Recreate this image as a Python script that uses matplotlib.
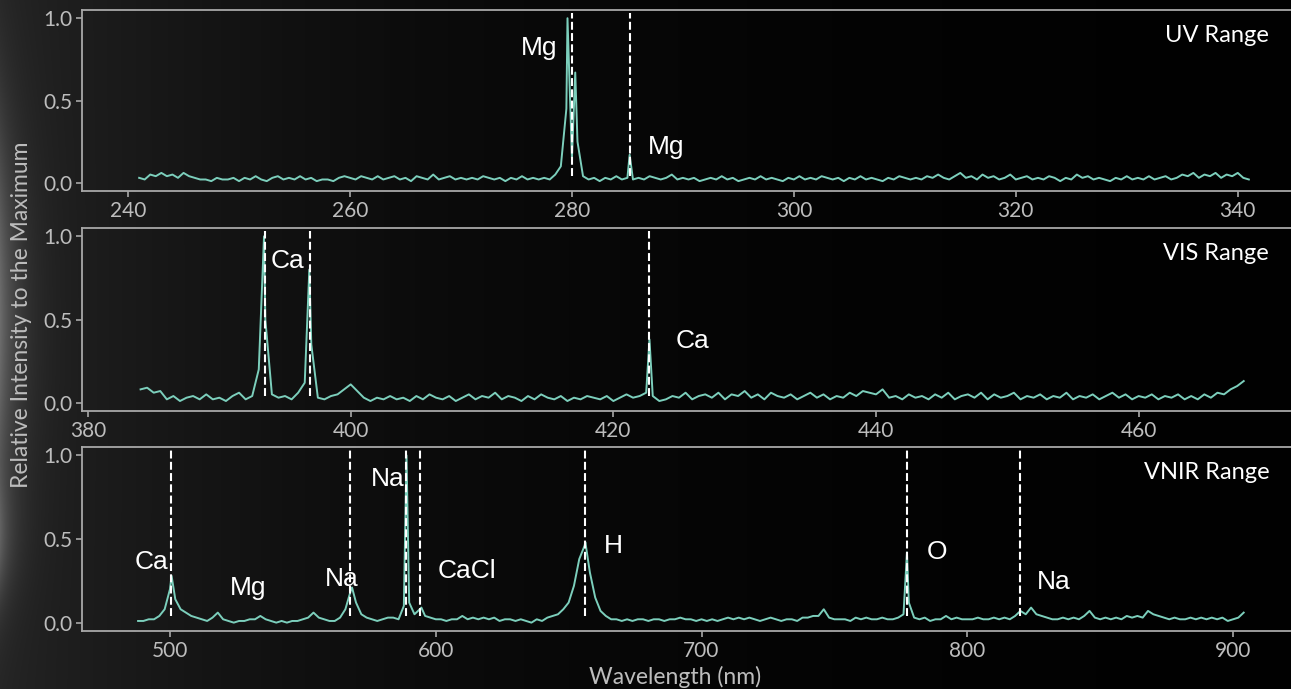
import matplotlib.pyplot as plt
import numpy as np

# ---- data ------------------------------------------------------------------
# UV range: regular 0.5 nm grid plus the peak tops
uv_start, uv_step = 241.0, 0.5
uv_int = [0.03, 0.02, 0.05, 0.04, 0.06, 0.04, 0.05, 0.03, 0.06, 0.04, 0.03, 0.02, 0.02, 0.01, 0.03, 0.02, 0.02, 0.03, 0.01, 0.03,
          0.02, 0.04, 0.02, 0.01, 0.03, 0.04, 0.02, 0.03, 0.02, 0.04, 0.02, 0.03, 0.01, 0.02, 0.02, 0.01, 0.03, 0.04, 0.03, 0.02,
          0.04, 0.03, 0.02, 0.04, 0.02, 0.03, 0.04, 0.02, 0.03, 0.01, 0.04, 0.03, 0.02, 0.05, 0.02, 0.03, 0.04, 0.02, 0.03, 0.02,
          0.03, 0.02, 0.04, 0.03, 0.02, 0.03, 0.01, 0.03, 0.02, 0.04, 0.02, 0.03, 0.02, 0.03, 0.02, 0.05, 0.10, 0.45, 0.15, 0.25,
          0.04, 0.02, 0.03, 0.01, 0.03, 0.02, 0.04, 0.02, 0.03, 0.02, 0.03, 0.02, 0.04, 0.03, 0.02, 0.03, 0.05, 0.02, 0.03, 0.02,
          0.03, 0.01, 0.02, 0.03, 0.02, 0.04, 0.02, 0.03, 0.01, 0.02, 0.03, 0.02, 0.04, 0.02, 0.03, 0.02, 0.01, 0.03, 0.02, 0.04,
          0.02, 0.03, 0.02, 0.04, 0.03, 0.02, 0.03, 0.01, 0.03, 0.02, 0.04, 0.02, 0.03, 0.02, 0.01, 0.03, 0.02, 0.04, 0.03, 0.02,
          0.03, 0.02, 0.04, 0.03, 0.05, 0.03, 0.02, 0.04, 0.06, 0.03, 0.04, 0.02, 0.05, 0.03, 0.04, 0.02, 0.03, 0.05, 0.02, 0.03,
          0.04, 0.02, 0.03, 0.02, 0.04, 0.03, 0.01, 0.03, 0.02, 0.05, 0.03, 0.04, 0.02, 0.03, 0.02, 0.01, 0.03, 0.02, 0.04, 0.02,
          0.03, 0.02, 0.04, 0.02, 0.03, 0.04, 0.02, 0.03, 0.05, 0.04, 0.06, 0.03, 0.05, 0.04, 0.06, 0.03, 0.05, 0.04, 0.06, 0.03,
          0.02]
uv_peak_wl = [279.6, 280.3, 285.2]
uv_peak_int = [1.0, 0.67, 0.17]

# VIS range
vis_start, vis_step = 384.0, 0.5
vis_int = [0.08, 0.09, 0.06, 0.07, 0.02, 0.04, 0.01, 0.03, 0.04, 0.02, 0.05, 0.02, 0.03, 0.01, 0.04, 0.06, 0.02, 0.04, 0.20, 0.50,
           0.05, 0.03, 0.04, 0.02, 0.06, 0.12, 0.35, 0.03, 0.02, 0.04, 0.05, 0.08, 0.11, 0.07, 0.03, 0.01, 0.03, 0.02, 0.04, 0.02,
           0.03, 0.01, 0.04, 0.02, 0.05, 0.03, 0.02, 0.04, 0.01, 0.03, 0.05, 0.02, 0.04, 0.03, 0.06, 0.02, 0.04, 0.03, 0.01, 0.04,
           0.02, 0.05, 0.03, 0.02, 0.04, 0.01, 0.03, 0.02, 0.04, 0.03, 0.02, 0.04, 0.01, 0.03, 0.05, 0.03, 0.04, 0.06, 0.04, 0.01,
           0.02, 0.04, 0.03, 0.06, 0.02, 0.04, 0.05, 0.03, 0.06, 0.02, 0.05, 0.04, 0.07, 0.03, 0.05, 0.02, 0.06, 0.04, 0.03, 0.05,
           0.02, 0.04, 0.06, 0.03, 0.05, 0.02, 0.04, 0.03, 0.06, 0.04, 0.07, 0.06, 0.05, 0.08, 0.03, 0.04, 0.02, 0.05, 0.03, 0.04,
           0.02, 0.05, 0.03, 0.06, 0.02, 0.04, 0.05, 0.03, 0.06, 0.02, 0.05, 0.03, 0.04, 0.06, 0.02, 0.04, 0.03, 0.05, 0.02, 0.04,
           0.03, 0.06, 0.02, 0.04, 0.03, 0.05, 0.02, 0.04, 0.06, 0.03, 0.05, 0.02, 0.04, 0.03, 0.05, 0.02, 0.04, 0.03, 0.05, 0.02,
           0.04, 0.02, 0.05, 0.03, 0.06, 0.05, 0.08, 0.10, 0.13]
vis_peak_wl = [393.4, 396.85, 422.75]
vis_peak_int = [1.0, 0.80, 0.38]

# VNIR range
vnir_start, vnir_step = 488.0, 2.0
vnir_int = [0.01, 0.01, 0.02, 0.02, 0.04, 0.08, 0.20, 0.14, 0.08, 0.06,
            0.04, 0.03, 0.02, 0.01, 0.03, 0.06, 0.02, 0.01, 0.00, 0.01,
            0.01, 0.02, 0.02, 0.04, 0.02, 0.01, 0.00, 0.01, 0.00, 0.01,
            0.01, 0.02, 0.03, 0.06, 0.03, 0.02, 0.01, 0.01, 0.03, 0.08,
            0.19, 0.12, 0.05, 0.03, 0.02, 0.01, 0.02, 0.03, 0.03, 0.02,
            0.10, 0.12, 0.05, 0.08, 0.04, 0.03, 0.02, 0.02, 0.01, 0.02,
            0.02, 0.04, 0.02, 0.03, 0.02, 0.03, 0.02, 0.03, 0.01, 0.02,
            0.02, 0.01, 0.02, 0.01, 0.00, 0.02, 0.01, 0.03, 0.04, 0.05,
            0.08, 0.12, 0.22, 0.38, 0.46, 0.30, 0.15, 0.07, 0.04, 0.02,
            0.02, 0.01, 0.02, 0.01, 0.02, 0.02, 0.01, 0.02, 0.02, 0.01,
            0.02, 0.02, 0.03, 0.02, 0.02, 0.01, 0.02, 0.01, 0.02, 0.01,
            0.02, 0.03, 0.02, 0.03, 0.02, 0.03, 0.02, 0.01, 0.02, 0.03,
            0.02, 0.01, 0.02, 0.02, 0.01, 0.03, 0.03, 0.04, 0.04, 0.08,
            0.03, 0.02, 0.02, 0.02, 0.01, 0.03, 0.02, 0.03, 0.02, 0.02,
            0.03, 0.02, 0.02, 0.03, 0.05, 0.12, 0.03, 0.02, 0.03, 0.01,
            0.02, 0.02, 0.04, 0.02, 0.03, 0.02, 0.02, 0.02, 0.03, 0.02,
            0.02, 0.03, 0.02, 0.03, 0.02, 0.04, 0.07, 0.05, 0.09, 0.05,
            0.04, 0.03, 0.02, 0.02, 0.03, 0.02, 0.03, 0.02, 0.04, 0.07,
            0.03, 0.02, 0.03, 0.02, 0.03, 0.02, 0.04, 0.03, 0.04, 0.03,
            0.07, 0.05, 0.04, 0.03, 0.02, 0.03, 0.02, 0.02, 0.03, 0.02,
            0.03, 0.02, 0.03, 0.02, 0.03, 0.01, 0.02, 0.03, 0.06]
vnir_peak_wl = [500.6, 568.5, 589.0, 594.6, 656.3, 777.3]
vnir_peak_int = [0.28, 0.21, 1.0, 0.09, 0.48, 0.42]

# reference lines and element labels
uv_lines = [280.0, 285.2]
vis_lines = [393.45, 396.9, 422.75]
vnir_lines = [500.4, 567.9, 588.7, 594.0, 656.3, 777.3, 819.9]

uv_labels = [("Mg", 277.0, 0.82), ("Mg", 288.5, 0.22)]
vis_labels = [("Ca", 395.2, 0.85), ("Ca", 426.0, 0.37)]
vnir_labels = [("Ca", 493.2, 0.36), ("Mg", 529.3, 0.21), ("Na", 564.7, 0.26), ("Na", 582.0, 0.86),
               ("CaCl", 611.7, 0.31), ("H", 666.9, 0.46), ("O", 788.7, 0.42), ("Na", 832.7, 0.24)]

range_names = ["UV Range", "VIS Range", "VNIR Range"]
xlims = [(235.85, 344.8), (379.54, 471.6), (466.9, 921.8)]
xticks = [[240, 260, 280, 300, 320, 340], [380, 400, 420, 440, 460], [500, 600, 700, 800, 900]]


def merge(start, step, vals, pk_wl, pk_int):
    wl = start + step * np.arange(len(vals))
    x = np.concatenate([wl, pk_wl])
    y = np.concatenate([vals, pk_int])
    order = np.argsort(x)
    return x[order], y[order]


spectra = [merge(uv_start, uv_step, uv_int, uv_peak_wl, uv_peak_int),
           merge(vis_start, vis_step, vis_int, vis_peak_wl, vis_peak_int),
           merge(vnir_start, vnir_step, vnir_int, vnir_peak_wl, vnir_peak_int)]
lines = [uv_lines, vis_lines, vnir_lines]
labels = [uv_labels, vis_labels, vnir_labels]

# ---- figure ------------------------------------------------------------------
W, H = 1291, 689
fig = plt.figure(figsize=(W / 100, H / 100), dpi=100)
fig.patch.set_facecolor('black')

# dark background with a faint glow on the left
bg = fig.add_axes([0, 0, 1, 1], zorder=-10)
xx, yy = np.meshgrid(np.arange(W), np.arange(H))
glow = (0.14 * np.exp(-xx / 380.0)
        + 0.28 * np.exp(-xx / 18.0) * np.exp(-((yy - 320) / 200.0) ** 2)
        + 0.15 * np.exp(-xx / 12.0) * np.exp(-((yy - 540) / 60.0) ** 2))
bg.imshow(np.dstack([glow] * 3).clip(0, 1), extent=[0, 1, 0, 1], aspect='auto')
bg.axis('off')

spine_col = '#a8a8a8'
tick_col = '#bdbdbd'
line_col = '#7ccfbc'
tick_font = 'Lato'

# axes boxes in pixels: (top, bottom)
boxes = [(10, 191), (228, 411), (447, 631)]
left_px = 82

for i, (top, bot) in enumerate(boxes):
    ax = fig.add_axes([left_px / W, 1 - bot / H, (W - left_px) / W, (bot - top) / H])
    ax.set_facecolor('none')
    x, y = spectra[i]
    ax.plot(x, y, color=line_col, lw=1.4, zorder=3)
    for wl in lines[i]:
        ax.plot([wl, wl], [0.04, 1.03], color='white', lw=1.5, dashes=(3.8, 1.6), zorder=4)
    for txt, lx, ly in labels[i]:
        ax.text(lx, ly, txt, color='white', fontsize=19, family='Liberation Sans',
                ha='center', va='center', zorder=5)
    ax.text(0.982, 0.86, range_names[i], transform=ax.transAxes, color='white',
            fontsize=17, family='Lato', ha='right', va='center')
    ax.set_xlim(*xlims[i])
    ax.set_ylim(-0.05, 1.05)
    ax.set_xticks(xticks[i])
    ax.set_yticks([0.0, 0.5, 1.0])
    ax.set_yticklabels(['0.0', '0.5', '1.0'])
    for s in ['top', 'bottom', 'left']:
        ax.spines[s].set_color(spine_col)
        ax.spines[s].set_linewidth(1.3)
    ax.spines['right'].set_visible(False)
    ax.tick_params(colors=spine_col, labelcolor=tick_col, labelsize=15, length=4, width=1.2, pad=3)
    for lab in ax.get_xticklabels() + ax.get_yticklabels():
        lab.set_family(tick_font)

fig.text(22 / W, 1 - 315 / H, 'Relative Intensity to the Maximum', rotation=90, color=tick_col,
         fontsize=16.5, family=tick_font, ha='center', va='center')
fig.text(675 / W, 1 - 677 / H, 'Wavelength (nm)', color=tick_col, fontsize=16.5,
         family=tick_font, ha='center', va='center')

fig.savefig('out.png', dpi=100, facecolor=fig.get_facecolor())
